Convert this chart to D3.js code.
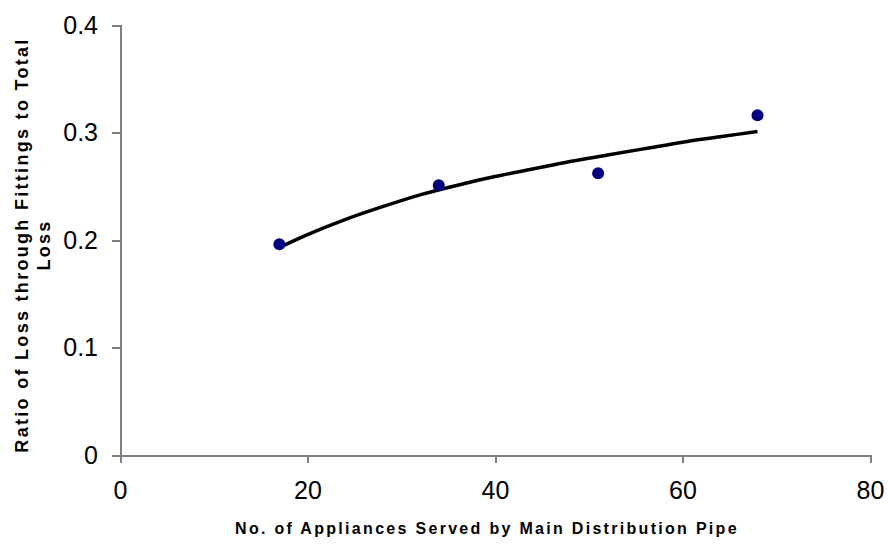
<!DOCTYPE html>
<html>
<head>
<meta charset="utf-8">
<script src="https://cdn.jsdelivr.net/npm/d3@7"></script>
<style>
  body { margin: 0; background: #fff; }
  svg { display: block; font-family: "Liberation Sans", Arial, sans-serif; }
  .axis path, .axis line { stroke: #808080; stroke-width: 2px; shape-rendering: crispEdges; }
  .axis text { font-size: 25px; fill: #000; }
  .title { font-weight: bold; fill: #000; }
</style>
</head>
<body>
<svg id="svg-1" width="889" height="545"></svg>
<script>
// measured points
const appliances = [17, 34, 51, 68];
const ratios = [0.196, 0.251, 0.262, 0.316];

// trend line
const trendX = [17, 20, 24, 28, 32, 36, 40, 44, 48, 52, 56, 60, 64, 68];
const trendY = [0.193, 0.205, 0.219, 0.231, 0.242, 0.251, 0.259, 0.266, 0.273, 0.279, 0.285, 0.291, 0.296, 0.301];

const xTicks = [0, 20, 40, 60, 80];
const yTicks = [0, 0.1, 0.2, 0.3, 0.4];

const margin = { top: 25, right: 19, bottom: 90, left: 120 },
  width = 889 - margin.left - margin.right,
  height = 545 - margin.top - margin.bottom;

const svg = d3.select("#svg-1")
  .append("g")
  .attr("transform", "translate(" + margin.left + "," + margin.top + ")");

const x = d3.scaleLinear().domain([0, 80]).range([0, width]);
const y = d3.scaleLinear().domain([0, 0.4]).range([height, 0]);

svg.append("g")
  .attr("class", "axis")
  .attr("transform", "translate(0," + height + ")")
  .call(d3.axisBottom(x).tickValues(xTicks).tickSize(8).tickSizeOuter(8).tickPadding(18).tickFormat(d3.format("d")));

svg.append("g")
  .attr("class", "axis")
  .call(d3.axisLeft(y).tickValues(yTicks).tickSize(8).tickSizeOuter(8).tickPadding(14)
    .tickFormat(d => d === 0 ? "0" : d3.format(".1f")(d)));

const trend = trendX.map((d, i) => ({ x: d, y: trendY[i] }));
svg.append("path")
  .datum(trend)
  .attr("fill", "none")
  .attr("stroke", "#000")
  .attr("stroke-width", 3.5)
  .attr("d", d3.line().x(d => x(d.x)).y(d => y(d.y)).curve(d3.curveMonotoneX));

svg.selectAll(".dot")
  .data(appliances.map((d, i) => ({ x: d, y: ratios[i] })))
  .enter()
  .append("circle")
  .attr("class", "dot")
  .attr("cx", d => x(d.x))
  .attr("cy", d => y(d.y))
  .attr("r", 6)
  .attr("fill", "#000080");

svg.append("text")
  .attr("class", "title")
  .attr("x", width / 2 - 8)
  .attr("y", height + 79)
  .attr("text-anchor", "middle")
  .style("font-size", "16px")
  .style("letter-spacing", "2.3px")
  .text("No. of Appliances Served by Main Distribution Pipe");

const yt = svg.append("text")
  .attr("class", "title")
  .attr("transform", "translate(-92," + (height / 2 + 5) + ") rotate(-90)")
  .attr("text-anchor", "middle")
  .style("font-size", "18px")
  .style("letter-spacing", "2.3px");
yt.append("tspan").attr("x", 0).attr("dy", 0).text("Ratio of Loss through Fittings to Total");
yt.append("tspan").attr("x", 0).attr("dy", 22).text("Loss");
</script>
</body>
</html>
